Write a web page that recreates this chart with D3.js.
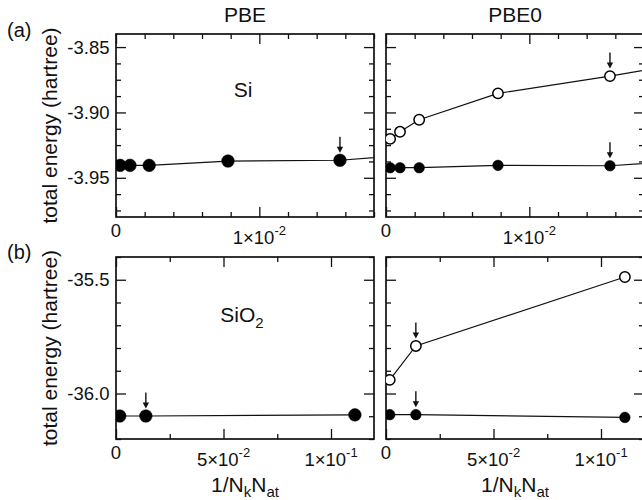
<!DOCTYPE html>
<html>
<head>
<meta charset="utf-8">
<script src="https://cdn.jsdelivr.net/npm/d3@7"></script>
<style>
  html, body { margin: 0; padding: 0; background: #fff; }
  svg { display: block; font-family: "Liberation Sans", Arial, Helvetica, sans-serif; }
</style>
</head>
<body>
<svg id="chart" width="642" height="500"></svg>
<script>
// Convergence of the total energy with k-point sampling, x = 1/(Nk*Nat)
const functionals = ["PBE", "PBE0"];
const rowTags = ["(a)", "(b)"];

// Si
const siX = [0.000289, 0.000977, 0.002315, 0.0078125, 0.015625, 0.03125];
const siPBE = [-3.9405, -3.9405, -3.9405, -3.9372, -3.9366, -3.9235];
const siPBE0Filled = [-3.9423, -3.9423, -3.9423, -3.9405, -3.9408, -3.9295];
const siPBE0Open = [-3.9202, -3.9148, -3.9056, -3.8854, -3.8722, -3.8429];
const siArrowIndex = 4;

// SiO2
const sio2X = [0.001736, 0.013889, 0.111111];
const sio2PBE = [-36.099, -36.099, -36.094];
const sio2PBE0Filled = [-36.093, -36.093, -36.105];
const sio2PBE0Open = [-35.940, -35.791, -35.488];
const sio2ArrowIndex = 1;

// Axis ranges and ticks
const siXDomain = [0, 0.018];
const siYDomain = [-3.98, -3.84];
const siXMajor = [0, 0.01];
const siXMinorStep = 0.002;
const siYMajor = [-3.95, -3.90, -3.85];
const siYMinorStep = 0.0125;
const siXLabels = [["0", null], ["1×10", "-2"]];
const siYLabels = ["-3.95", "-3.90", "-3.85"];

const sio2XDomain = [0, 0.12];
const sio2YDomain = [-36.2, -35.4];
const sio2XMajor = [0, 0.05, 0.1];
const sio2XMinorStep = 0.025;
const sio2YMajor = [-36.0, -35.5];
const sio2YMinorStep = 0.1;
const sio2XLabels = [["0", null], ["5×10", "-2"], ["1×10", "-1"]];
const sio2YLabels = ["-36.0", "-35.5"];

const svg = d3.select("#chart");
const colX = [[116, 374], [386, 644]];
const rowY = [[34, 217], [257, 439]];

function steps(domain, step) {
  const out = [];
  const start = Math.ceil(domain[0] / step - 1e-9);
  for (let i = start; i * step <= domain[1] + 1e-12; i++) out.push(+(i * step).toFixed(6));
  return out;
}

const rows = [
  {
    xd: siXDomain, yd: siYDomain, xMaj: siXMajor, xMin: siXMinorStep, yMaj: siYMajor, yMin: siYMinorStep,
    xLab: siXLabels, yLab: siYLabels, x: siX, arrow: siArrowIndex,
    series: [[{ v: siPBE, open: false }], [{ v: siPBE0Open, open: true }, { v: siPBE0Filled, open: false }]]
  },
  {
    xd: sio2XDomain, yd: sio2YDomain, xMaj: sio2XMajor, xMin: sio2XMinorStep, yMaj: sio2YMajor, yMin: sio2YMinorStep,
    xLab: sio2XLabels, yLab: sio2YLabels, x: sio2X, arrow: sio2ArrowIndex,
    series: [[{ v: sio2PBE, open: false }], [{ v: sio2PBE0Open, open: true }, { v: sio2PBE0Filled, open: false }]]
  }
];

const defs = svg.append("defs");

rows.forEach((row, ri) => {
  const [y0, y1] = rowY[ri];
  colX.forEach(([x0, x1], ci) => {
    const xs = d3.scaleLinear().domain(row.xd).range([x0, x1]);
    const ys = d3.scaleLinear().domain(row.yd).range([y1, y0]);
    const g = svg.append("g");
    const clipId = `clip-${ri}-${ci}`;
    defs.append("clipPath").attr("id", clipId)
      .append("rect").attr("x", x0).attr("y", y0).attr("width", x1 - x0).attr("height", y1 - y0);

    // ticks on all four sides, pointing inward
    const xMinor = steps(row.xd, row.xMin).filter(v => !row.xMaj.some(m => Math.abs(m - v) < 1e-9));
    const yMinor = steps(row.yd, row.yMin).filter(v => !row.yMaj.some(m => Math.abs(m - v) < 1e-9));
    const tickSets = [
      [d3.axisBottom(xs), y1, -10, row.xMaj, "x"], [d3.axisBottom(xs), y1, -5, xMinor, "x"],
      [d3.axisTop(xs), y0, -10, row.xMaj, "x"], [d3.axisTop(xs), y0, -5, xMinor, "x"],
      [d3.axisLeft(ys), x0, -10, row.yMaj, "y"], [d3.axisLeft(ys), x0, -5, yMinor, "y"],
      [d3.axisRight(ys), x1, -10, row.yMaj, "y"], [d3.axisRight(ys), x1, -5, yMinor, "y"]
    ];
    tickSets.forEach(([ax, pos, len, vals, dir]) => {
      const a = g.append("g")
        .attr("transform", dir === "x" ? `translate(0,${pos})` : `translate(${pos},0)`)
        .call(ax.tickValues(vals).tickSize(len).tickFormat(""));
      a.select(".domain").remove();
      a.selectAll(".tick line").attr("stroke", "#111").attr("stroke-width", 1.3);
    });

    // frame
    g.append("rect").attr("x", x0).attr("y", y0).attr("width", x1 - x0).attr("height", y1 - y0)
      .attr("fill", "none").attr("stroke", "#111").attr("stroke-width", 1.7);

    // x tick labels
    row.xMaj.forEach((v, i) => {
      const [base, expo] = row.xLab[i];
      const t = g.append("text").attr("x", xs(v)).attr("y", y1 + (expo ? 27 : 19.5))
        .attr("text-anchor", "middle").attr("font-size", 18.5).attr("fill", "#111");
      t.append("tspan").text(base);
      if (expo) t.append("tspan").attr("dy", -9).attr("font-size", 13).text(expo);
    });

    // y tick labels (left column only)
    if (ci === 0) {
      row.yMaj.forEach((v, i) => {
        g.append("text").attr("x", x0 - 6.5).attr("y", ys(v)).attr("dy", "0.36em")
          .attr("text-anchor", "end").attr("font-size", 18.5).attr("fill", "#111")
          .text(row.yLab[i]);
      });
    }

    // data
    const line = d3.line().x((d, i) => xs(row.x[i])).y(d => ys(d));
    const r = ci === 0 ? 6.3 : 5.3;
    row.series[ci].forEach(s => {
      g.append("path").datum(s.v).attr("d", line).attr("clip-path", `url(#${clipId})`)
        .attr("fill", "none").attr("stroke", "#111").attr("stroke-width", 1.2);
      g.append("g").attr("clip-path", `url(#${clipId})`).selectAll("circle").data(s.v).join("circle")
        .attr("cx", (d, i) => xs(row.x[i])).attr("cy", d => ys(d))
        .attr("r", s.open ? 5.2 : r)
        .attr("fill", s.open ? "#fff" : "#000")
        .attr("stroke", "#000").attr("stroke-width", s.open ? 1.5 : 0.5);

      // arrow marking the chosen sampling
      const ax = xs(row.x[row.arrow]);
      const tip = ys(s.v[row.arrow]) - 7.5;
      g.append("line").attr("x1", ax).attr("x2", ax).attr("y1", tip - 16).attr("y2", tip - 4)
        .attr("stroke", "#111").attr("stroke-width", 1.4);
      g.append("path")
        .attr("d", `M${ax - 3.2},${tip - 6} L${ax + 3.2},${tip - 6} L${ax},${tip} Z`)
        .attr("fill", "#111");
    });

    // column titles
    if (ri === 0) {
      g.append("text").attr("x", (x0 + x1) / 2).attr("y", 21.7).attr("text-anchor", "middle")
        .attr("font-size", 21).attr("fill", "#111").text(functionals[ci]);
    }
    // x axis title under bottom row
    if (ri === 1) {
      const t = g.append("text").attr("x", (x0 + x1) / 2).attr("y", 492).attr("text-anchor", "middle")
        .attr("font-size", 21).attr("fill", "#111");
      t.append("tspan").text("1/N");
      t.append("tspan").attr("dy", 5).attr("font-size", 15).text("k");
      t.append("tspan").attr("dy", -5).text("N");
      t.append("tspan").attr("dy", 5).attr("font-size", 15).text("at");
    }
  });

  // row tag and y axis title
  svg.append("text").attr("x", 7).attr("y", ri === 0 ? 37 : 259).attr("font-size", 20)
    .attr("fill", "#111").text(rowTags[ri]);
  const cy = (rowY[ri][0] + rowY[ri][1]) / 2;
  svg.append("text").attr("transform", `translate(57,${cy}) rotate(-90)`)
    .attr("text-anchor", "middle").attr("font-size", 21).attr("fill", "#111")
    .text("total energy (hartree)");
});

// material labels
svg.append("text").attr("x", 243).attr("y", 96.7).attr("text-anchor", "middle")
  .attr("font-size", 21).attr("fill", "#111").text("Si");
const sio2 = svg.append("text").attr("x", 242).attr("y", 321.7).attr("text-anchor", "middle")
  .attr("font-size", 21).attr("fill", "#111");
sio2.append("tspan").text("SiO");
sio2.append("tspan").attr("dy", 6).attr("font-size", 15).text("2");
</script>
</body>
</html>
